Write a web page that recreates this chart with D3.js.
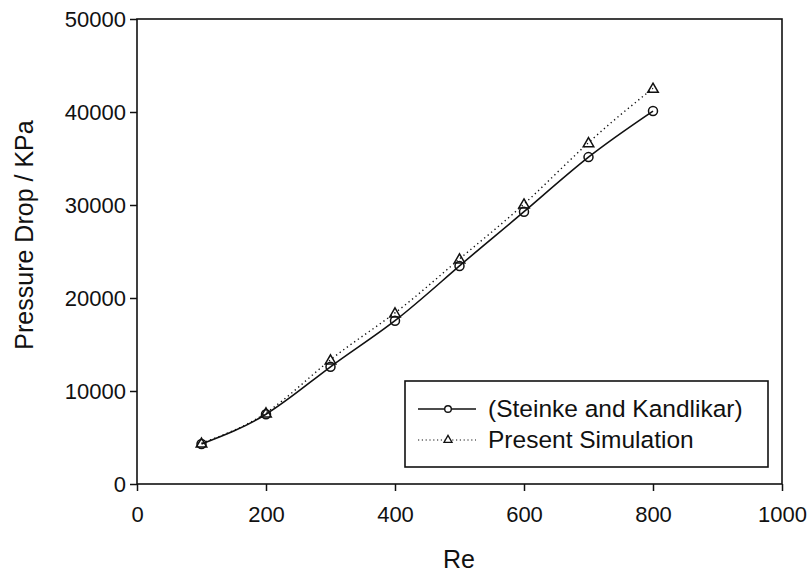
<!DOCTYPE html>
<html>
<head>
<meta charset="utf-8">
<script src="https://cdn.jsdelivr.net/npm/d3@7"></script>
<style>
  html, body { margin: 0; padding: 0; background: #fff; }
  svg { display: block; font-family: "Liberation Sans", Arial, sans-serif; }
</style>
</head>
<body>
<svg id="chart" width="809" height="573"></svg>
<script>
// Reynolds numbers and pressure drop (KPa)
const reynolds = [100, 200, 300, 400, 500, 600, 700, 800];
const steinke = [4300, 7500, 12600, 17560, 23450, 29280, 35150, 40100];
const simulation = [4400, 7650, 13350, 18400, 24200, 30100, 36700, 42550];
const xTicks = [0, 200, 400, 600, 800, 1000];
const yTicks = [0, 10000, 20000, 30000, 40000, 50000];
const seriesNames = ["(Steinke and Kandlikar)", "Present Simulation"];

const svg = d3.select("#chart");
const plotLeft = 137, plotRight = 782, plotTop = 19, plotBottom = 484;

const x = d3.scaleLinear().domain([0, 1000]).range([plotLeft, plotRight]);
const y = d3.scaleLinear().domain([0, 50000]).range([plotBottom, plotTop]);

// frame
svg.append("rect")
  .attr("x", plotLeft).attr("y", plotTop)
  .attr("width", plotRight - plotLeft).attr("height", plotBottom - plotTop)
  .attr("fill", "none").attr("stroke", "#111").attr("stroke-width", 1.6);

// axes
const xAxis = svg.append("g").attr("transform", `translate(0,${plotBottom})`)
  .call(d3.axisBottom(x).tickValues(xTicks).tickSize(7).tickPadding(15).tickFormat(d3.format("d")));
const yAxis = svg.append("g").attr("transform", `translate(${plotLeft},0)`)
  .call(d3.axisLeft(y).tickValues(yTicks).tickSize(7).tickPadding(4).tickFormat(d3.format("d")));
[xAxis, yAxis].forEach(g => {
  g.select(".domain").remove();
  g.selectAll(".tick line").attr("stroke", "#111").attr("stroke-width", 1.5);
  g.selectAll(".tick text").attr("fill", "#111")
    .style("font-family", "'Liberation Sans', Arial, sans-serif").style("font-size", "22px");
});

// axis titles
svg.append("text").attr("x", 459).attr("y", 568).attr("text-anchor", "middle")
  .attr("font-size", 25).attr("fill", "#111").text("Re");
svg.append("text").attr("transform", "translate(33,235) rotate(-90)")
  .attr("text-anchor", "middle").attr("font-size", 25).attr("fill", "#111")
  .text("Pressure Drop / KPa");

const pts = (vals) => reynolds.map((r, i) => [x(r), y(vals[i])]);
const curve = d3.line().curve(d3.curveNatural);

// Steinke and Kandlikar: solid line with circles
svg.append("path").attr("d", curve(pts(steinke)))
  .attr("fill", "none").attr("stroke", "#111").attr("stroke-width", 1.6);
// present simulation: dotted line with triangles
svg.append("path").attr("d", curve(pts(simulation)))
  .attr("fill", "none").attr("stroke", "#111").attr("stroke-width", 1.4)
  .attr("stroke-dasharray", "1.3,3.2");

const tri = d3.symbol().type(d3.symbolTriangle);
svg.selectAll(".circ").data(pts(steinke)).join("circle")
  .attr("cx", d => d[0]).attr("cy", d => d[1]).attr("r", 4.5)
  .attr("fill", "none").attr("stroke", "#111").attr("stroke-width", 1.5);
svg.selectAll(".tri").data(pts(simulation)).join("path")
  .attr("d", tri.size(48)())
  .attr("transform", d => `translate(${d[0]},${d[1] + 1})`)
  .attr("fill", "none").attr("stroke", "#111").attr("stroke-width", 1.5);

// legend
const lg = svg.append("g");
lg.append("rect").attr("x", 405).attr("y", 381).attr("width", 363).attr("height", 86)
  .attr("fill", "#fff").attr("stroke", "#111").attr("stroke-width", 1.6);
const rows = [409, 440];
lg.append("line").attr("x1", 418).attr("x2", 476).attr("y1", rows[0]).attr("y2", rows[0])
  .attr("stroke", "#111").attr("stroke-width", 1.5);
lg.append("circle").attr("cx", 448).attr("cy", rows[0]).attr("r", 3.3)
  .attr("fill", "#fff").attr("stroke", "#111").attr("stroke-width", 1.4);
lg.append("line").attr("x1", 418).attr("x2", 476).attr("y1", rows[1]).attr("y2", rows[1])
  .attr("stroke", "#111").attr("stroke-width", 1.2).attr("stroke-dasharray", "1.2,2.6");
lg.append("path").attr("d", tri.size(28)()).attr("transform", `translate(448,${rows[1]})`)
  .attr("fill", "#fff").attr("stroke", "#111").attr("stroke-width", 1.3);
seriesNames.forEach((name, i) => {
  lg.append("text").attr("x", 488).attr("y", rows[i] + 8)
    .attr("font-size", 24.5).attr("fill", "#111").text(name);
});
</script>
</body>
</html>
